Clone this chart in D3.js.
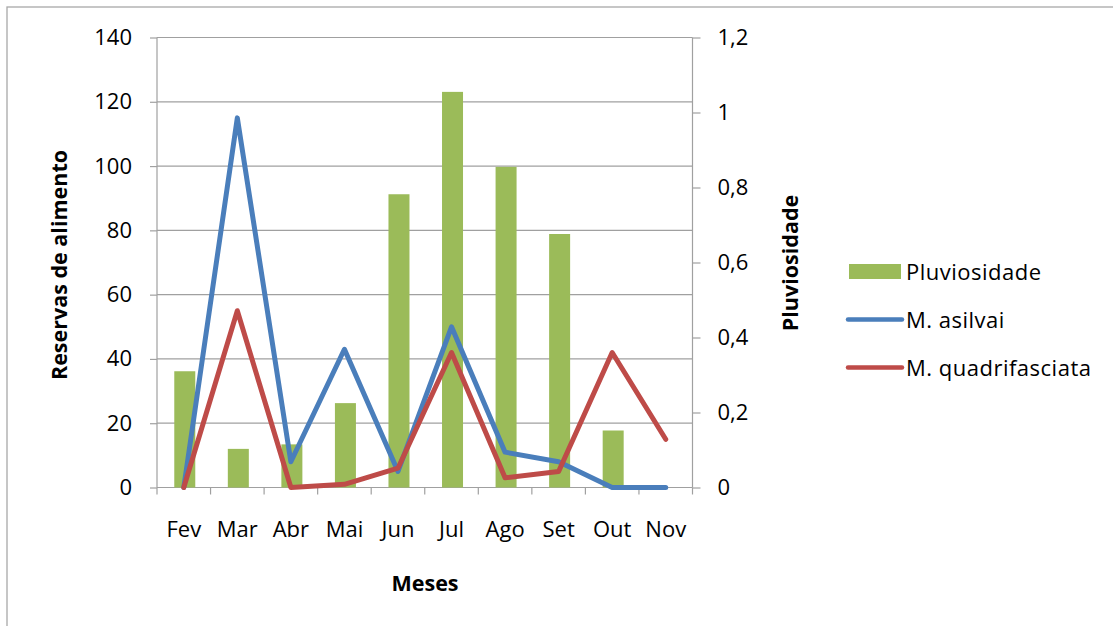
<!DOCTYPE html>
<html>
<head>
<meta charset="utf-8">
<script src="https://cdn.jsdelivr.net/npm/d3@7/dist/d3.min.js"></script>
<style>
  html, body { margin: 0; padding: 0; background: #fff; }
  svg { display: block; font-family: "Open Sans", "Noto Sans", sans-serif; }
</style>
</head>
<body>
<svg id="chart" width="1113" height="626"></svg>
<script>
const months = ["Fev", "Mar", "Abr", "Mai", "Jun", "Jul", "Ago", "Set", "Out", "Nov"];
const pluviosidade = [0.31, 0.103, 0.115, 0.225, 0.782, 1.055, 0.855, 0.676, 0.152, 0];
const asilvai = [0, 115, 8, 43, 5, 50, 11, 8, 0, 0];
const quadrifasciata = [0, 55, 0, 1, 6, 42, 3, 5, 42, 15];
const leftTicks = [0, 20, 40, 60, 80, 100, 120, 140];
const rightTicks = [0, 0.2, 0.4, 0.6, 0.8, 1, 1.2];
const seriesNames = ["Pluviosidade", "M. asilvai", "M. quadrifasciata"];

const colors = { bar: "#9BBB59", blue: "#4A7EBB", red: "#BE4B48", grid: "#A0A0A0" };

const svg = d3.select("#chart");
const m = { left: 157, right: 692.5, top: 37.5, bottom: 487.5 };

// frame
svg.append("rect").attr("x", 7).attr("y", 7).attr("width", 1200).attr("height", 700)
  .attr("fill", "none").attr("stroke", "#A8A8A8").attr("stroke-width", 1.3);

const x = d3.scaleBand().domain(months).range([m.left, m.right]).paddingInner(0).paddingOuter(0);
const yL = d3.scaleLinear().domain([0, 140]).range([m.bottom, m.top]);
const yR = d3.scaleLinear().domain([0, 1.2]).range([m.bottom, m.top]);

// gridlines
svg.append("g").selectAll("line").data(leftTicks.filter(d => d > 0)).join("line")
  .attr("x1", m.left).attr("x2", m.right)
  .attr("y1", d => yL(d)).attr("y2", d => yL(d))
  .attr("stroke", colors.grid).attr("stroke-width", 1.2);

// left axis
const axL = svg.append("g").attr("transform", `translate(${m.left},0)`)
  .call(d3.axisLeft(yL).tickValues(leftTicks).tickSize(7).tickPadding(18).tickFormat(d3.format("d")));
// right axis
const axR = svg.append("g").attr("transform", `translate(${m.right},0)`)
  .call(d3.axisRight(yR).tickValues(rightTicks).tickSize(8).tickPadding(17)
    .tickFormat(d => String(d).replace(".", ",")));
// bottom axis
const axB = svg.append("g").attr("transform", `translate(0,${m.bottom})`)
  .call(d3.axisBottom(x).tickSize(0).tickPadding(34));
// boundary ticks on x axis
const bounds = months.map(d => x(d)).concat([m.right]);
svg.append("g").selectAll("line").data(bounds).join("line")
  .attr("x1", d => d).attr("x2", d => d).attr("y1", m.bottom).attr("y2", m.bottom + 7)
  .attr("stroke", colors.grid).attr("stroke-width", 1.2);

[axL, axR, axB].forEach(a => {
  a.selectAll(".domain").attr("stroke", colors.grid).attr("stroke-width", 1.2);
  a.selectAll(".tick line").attr("stroke", colors.grid).attr("stroke-width", 1.2);
  a.selectAll("text").attr("font-size", 22).attr("fill", "#000")
    .attr("font-family", "'Open Sans', sans-serif");
});
axB.selectAll(".domain").attr("d", `M${m.left},0H${m.right}`);
axL.selectAll(".domain").attr("d", `M0,${m.top}V${m.bottom}`);
axR.selectAll(".domain").attr("d", `M0,${m.top}V${m.bottom}`);

// bars
const barW = 21;
svg.append("g").selectAll("rect").data(pluviosidade).join("rect")
  .attr("x", (d, i) => x(months[i]) + x.bandwidth() / 2 - barW / 2 + 1)
  .attr("width", barW)
  .attr("y", d => yR(d))
  .attr("height", d => yR(0) - yR(d))
  .attr("fill", colors.bar);

// lines
const line = d3.line().x((d, i) => x(months[i]) + x.bandwidth() / 2).y(d => yL(d));
svg.append("path").datum(asilvai).attr("d", line).attr("fill", "none")
  .attr("stroke", colors.blue).attr("stroke-width", 5)
  .attr("stroke-linejoin", "round").attr("stroke-linecap", "round");
svg.append("path").datum(quadrifasciata).attr("d", line).attr("fill", "none")
  .attr("stroke", colors.red).attr("stroke-width", 5)
  .attr("stroke-linejoin", "round").attr("stroke-linecap", "round");

// axis titles
svg.append("text").attr("transform", "translate(67,265) rotate(-90)")
  .attr("text-anchor", "middle").attr("font-weight", "bold").attr("font-size", 21.5)
  .text("Reservas de alimento");
svg.append("text").attr("transform", "translate(798,263) rotate(-90)")
  .attr("text-anchor", "middle").attr("font-weight", "bold").attr("font-size", 21.5)
  .text("Pluviosidade");
svg.append("text").attr("x", 425).attr("y", 591)
  .attr("text-anchor", "middle").attr("font-weight", "bold").attr("font-size", 21.5)
  .text("Meses");

// legend
const leg = svg.append("g");
const rowsY = [271.5, 319.5, 367.5];
leg.append("rect").attr("x", 849).attr("y", rowsY[0] - 7.5).attr("width", 52).attr("height", 15)
  .attr("fill", colors.bar);
[[colors.blue, rowsY[1]], [colors.red, rowsY[2]]].forEach(([c, yy]) => {
  leg.append("line").attr("x1", 848).attr("x2", 902).attr("y1", yy).attr("y2", yy)
    .attr("stroke", c).attr("stroke-width", 4.5).attr("stroke-linecap", "round");
});
leg.selectAll("text.l").data(seriesNames).join("text").attr("class", "l")
  .attr("x", 906).attr("y", (d, i) => rowsY[i] + 8)
  .attr("font-size", 22).attr("letter-spacing", 0.5).text(d => d);
</script>
</body>
</html>
